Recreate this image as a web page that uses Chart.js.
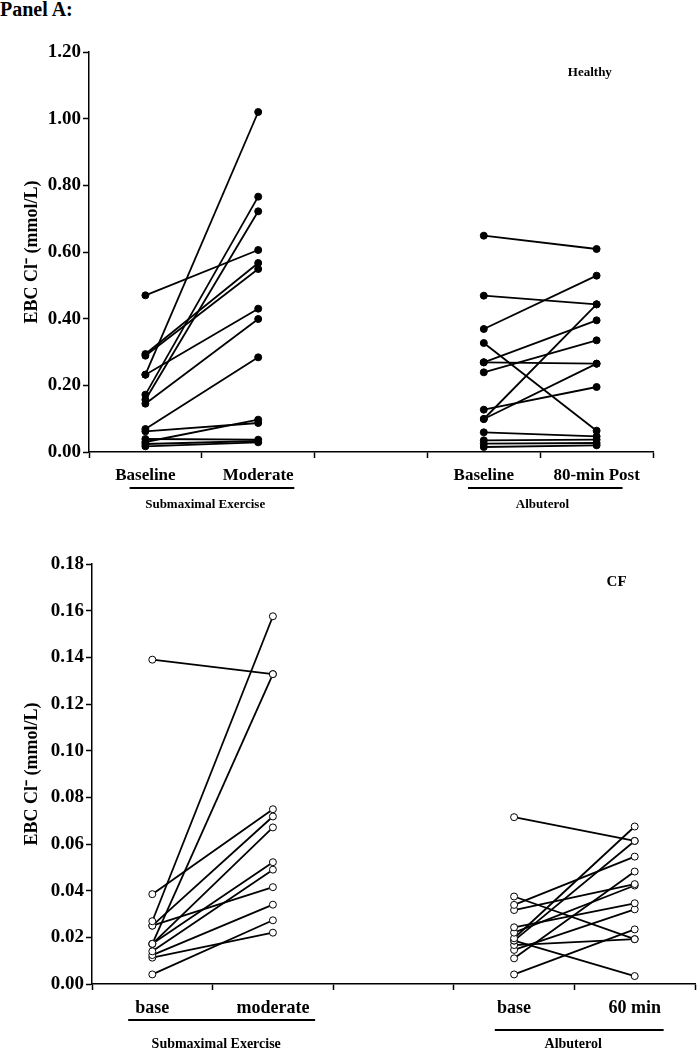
<!DOCTYPE html>
<html>
<head>
<meta charset="utf-8">
<script src="https://cdn.jsdelivr.net/npm/chart.js@4"></script>
<style>
  body { margin: 0; background: #fff; }
  #wrap { position: relative; width: 700px; height: 1050px; overflow: hidden; }
  #panel { position: absolute; left: 0; top: -1px; font: bold 20px 'Liberation Serif', serif; line-height: 20px; }
  canvas { position: absolute; left: 0; }
</style>
</head>
<body>
<div id="wrap">
  <div id="panel">Panel A:</div>
  <canvas id="healthy" width="700" height="520" style="top:0"></canvas>
  <canvas id="cf" width="700" height="530" style="top:520px"></canvas>
</div>
<script>
// x position of each condition (2 = empty slot between the two studies)
const xPos = [0.5, 1.5, 3.5, 4.5];
const healthyLabels = ['Baseline', 'Moderate', 'Baseline', '80-min Post'];
const cfLabels = ['base', 'moderate', 'base', '60 min'];
const groupNames = ['Submaximal Exercise', 'Albuterol'];

const healthyTicks = [0, 0.2, 0.4, 0.6, 0.8, 1.0, 1.2];
const cfTicks = [0, 0.02, 0.04, 0.06, 0.08, 0.10, 0.12, 0.14, 0.16, 0.18];

// Healthy subjects, EBC Cl- (mmol/L)
const hExBase     = [0.470, 0.294, 0.289, 0.232, 0.232, 0.172, 0.157, 0.145, 0.069, 0.062, 0.039, 0.030, 0.024, 0.017];
const hExModerate = [0.606, 0.567, 0.549, 1.020, 0.430, 0.766, 0.722, 0.399, 0.284, 0.087, 0.037, 0.097, 0.033, 0.029];
const hAlbBase    = [0.649, 0.469, 0.369, 0.327, 0.269, 0.269, 0.239, 0.127, 0.099, 0.099, 0.059, 0.035, 0.025, 0.015];
const hAlbPost    = [0.609, 0.443, 0.529, 0.064, 0.395, 0.265, 0.335, 0.195, 0.443, 0.265, 0.047, 0.037, 0.027, 0.020];

// CF subjects
const cExBase     = [0.1390, 0.0269, 0.0172, 0.0385, 0.0250, 0.0250, 0.0172, 0.0172, 0.0140, 0.0124, 0.0113, 0.0041];
const cExModerate = [0.1328, 0.1576, 0.1328, 0.0749, 0.0718, 0.0415, 0.0671, 0.0522, 0.0490, 0.0340, 0.0220, 0.0273];
const cAlbBase    = [0.0715, 0.0375, 0.0339, 0.0317, 0.0243, 0.0220, 0.0196, 0.0186, 0.0186, 0.0167, 0.0146, 0.0110, 0.0041];
const cAlbPost    = [0.0613, 0.0192, 0.0546, 0.0428, 0.0346, 0.0422, 0.0675, 0.0613, 0.0034, 0.0192, 0.0320, 0.0482, 0.0234];

const FAMILY = "'Liberation Serif', 'Times New Roman', serif";
Chart.defaults.font.family = FAMILY;
Chart.defaults.color = '#000';

function pairSets(base, after, x0, x1, fill) {
  return base.map((b, i) => ({
    data: [{ x: x0, y: b }, { x: x1, y: after[i] }],
    borderColor: '#000',
    borderWidth: 1.8,
    pointRadius: 3.5,
    pointBackgroundColor: fill,
    pointBorderColor: '#000',
    pointBorderWidth: 1,
    clip: false
  }));
}

// draws condition labels, the study underlines and the group note
const groupLabels = {
  id: 'groupLabels',
  afterDraw(chart, args, o) {
    const { ctx, scales: { x, y } } = chart;
    ctx.save();
    ctx.fillStyle = '#000';
    ctx.strokeStyle = '#000';
    ctx.textAlign = 'center';
    ctx.textBaseline = 'alphabetic';
    ctx.font = 'bold ' + o.labelSize + 'px ' + FAMILY;
    o.labels.forEach((t, i) => ctx.fillText(t, x.getPixelForValue(xPos[i]), o.labelY));
    ctx.lineWidth = 2;
    o.groups.forEach((g, i) => {
      ctx.beginPath();
      ctx.moveTo(x.getPixelForValue(g.from), g.lineY);
      ctx.lineTo(x.getPixelForValue(g.to), g.lineY);
      ctx.stroke();
      ctx.font = 'bold ' + o.nameSize + 'px ' + FAMILY;
      ctx.fillText(groupNames[i], x.getPixelForValue(g.nameAt), o.nameY);
    });
    ctx.font = 'bold ' + o.noteSize + 'px ' + FAMILY;
    ctx.textBaseline = 'middle';
    ctx.fillText(o.note, x.getPixelForValue(o.noteX), y.getPixelForValue(o.noteY));
    ctx.restore();
  }
};

function makeChart(id, datasets, ticks, cfg) {
  const tickFont = { family: FAMILY, size: 19, weight: 'bold' };
  const titleFont = { family: FAMILY, size: 18, weight: 'bold' };
  return new Chart(document.getElementById(id), {
    type: 'line',
    data: { datasets },
    plugins: [groupLabels],
    options: {
      responsive: false,
      animation: false,
      events: [],
      layout: { padding: { left: 0, right: cfg.right, top: cfg.top, bottom: 0 } },
      plugins: {
        legend: { display: false },
        tooltip: { enabled: false },
        groupLabels: cfg.labels
      },
      scales: {
        x: {
          type: 'linear',
          min: 0,
          max: 5,
          afterBuildTicks: s => { s.ticks = [0, 1, 2, 3, 4, 5].map(v => ({ value: v })); },
          afterFit: s => { s.height = cfg.xHeight; },
          ticks: { display: false },
          grid: { drawOnChartArea: false, drawTicks: true, tickLength: 6, tickWidth: 1.5, tickColor: '#000' },
          border: { color: '#000', width: 1.5 }
        },
        y: {
          min: ticks[0],
          max: ticks[ticks.length - 1],
          afterBuildTicks: s => { s.ticks = ticks.map(v => ({ value: v })); },
          afterFit: s => { s.width = cfg.yWidth; },
          ticks: { callback: v => v.toFixed(2), font: tickFont, color: '#000', padding: 2 },
          grid: { drawOnChartArea: false, drawTicks: true, tickLength: 6, tickWidth: 1.5, tickColor: '#000' },
          border: { color: '#000', width: 1.5 },
          title: {
            display: true,
            text: 'EBC Cl\u207B (mmol/L)',
            color: '#000',
            font: titleFont,
            padding: { top: 22, bottom: 0 }
          }
        }
      }
    }
  });
}

makeChart('healthy',
  pairSets(hExBase, hExModerate, xPos[0], xPos[1], '#000')
    .concat(pairSets(hAlbBase, hAlbPost, xPos[2], xPos[3], '#000')),
  healthyTicks,
  {
    top: 52, right: 47, yWidth: 89, xHeight: 68,
    labels: {
      labels: healthyLabels, labelSize: 17, labelY: 480,
      nameSize: 13, nameY: 508,
      groups: [
        { from: 0.36, to: 1.82, lineY: 488, nameAt: 1.03 },
        { from: 3.36, to: 4.73, lineY: 488, nameAt: 4.02 }
      ],
      note: 'Healthy', noteSize: 13, noteX: 4.44, noteY: 1.138
    }
  });

makeChart('cf',
  pairSets(cExBase, cExModerate, xPos[0], xPos[1], '#fff')
    .concat(pairSets(cAlbBase, cAlbPost, xPos[2], xPos[3], '#fff')),
  cfTicks,
  {
    top: 44, right: 1, yWidth: 92, xHeight: 66,
    labels: {
      labels: cfLabels, labelSize: 18, labelY: 493,
      nameSize: 14, nameY: 528,
      groups: [
        { from: 0.30, to: 1.85, lineY: 500, nameAt: 1.03 },
        { from: 3.34, to: 4.74, lineY: 510, nameAt: 3.99 }
      ],
      note: 'CF', noteSize: 15, noteX: 4.35, noteY: 0.1724
    }
  });
</script>
</body>
</html>
